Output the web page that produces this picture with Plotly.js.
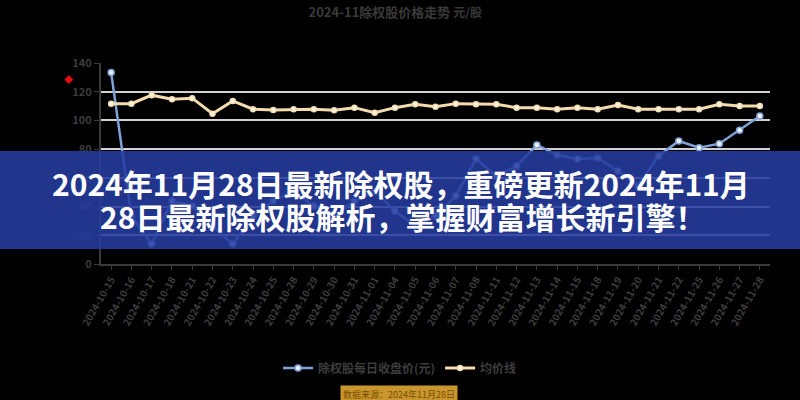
<!DOCTYPE html>
<html>
<head>
<meta charset="utf-8">
<script src="https://cdn.plot.ly/plotly-3.0.1.min.js"></script>
<style>
html,body{margin:0;padding:0;background:#000;}
#chart{width:800px;height:400px;}
</style>
</head>
<body>
<div id="chart"></div>
<script>
const dates = ["2024-10-15","2024-10-16","2024-10-17","2024-10-18","2024-10-21","2024-10-22","2024-10-23","2024-10-24","2024-10-25","2024-10-28","2024-10-29","2024-10-30","2024-10-31","2024-11-01","2024-11-04","2024-11-05","2024-11-06","2024-11-07","2024-11-08","2024-11-11","2024-11-12","2024-11-13","2024-11-14","2024-11-15","2024-11-18","2024-11-19","2024-11-20","2024-11-21","2024-11-22","2024-11-25","2024-11-26","2024-11-27","2024-11-28"];
const closePrice = [133.3,33.5,13.9,43.9,40.4,26.5,13.9,33.5,43.9,50.9,40.4,33.5,43.9,50.9,36.9,26.5,33.5,47.4,73.2,61.3,68.3,82.9,76.0,73.2,73.9,64.8,54.4,75.3,85.7,81.0,83.8,93.2,103.1];
const avgPrice = [111.7,111.7,117.6,114.8,115.5,104.7,113.6,107.8,107.3,107.8,107.8,107.1,108.9,105.4,108.9,111.3,109.6,111.7,111.3,111.3,108.9,108.9,107.8,108.9,107.8,110.8,107.8,107.8,107.8,107.8,111.3,110.1,110.1];
const seriesNames = ["除权股每日收盘价(元)","均价线"];
const yTicks = [0,20,40,60,80,100,120,140];
const chartTitle = "2024-11除权股价格走势 <span style='font-size:12px'>元/股</span>";
const bannerLine1 = "2024年11月28日最新除权股，重磅更新2024年11月";
const bannerLine2 = "28日最新除权股解析，掌握财富增长新引擎！";
const sourceNote = "数据来源：2024年11月28日";

const traces = [
  {
    x: dates, y: closePrice, name: seriesNames[0], type: "scatter", mode: "lines+markers",
    line: {color: "#7fa2d8", width: 2.5},
    marker: {color: "#eef3fb", size: 6, line: {color: "#7fa2d8", width: 1.5}}
  },
  {
    x: dates, y: avgPrice, name: seriesNames[1], type: "scatter", mode: "lines+markers",
    line: {color: "#f4dcae", width: 3},
    marker: {color: "#fff8ea", size: 5, line: {color: "#f4dcae", width: 1.5}}
  }
];

const L = 101, R = 770, T = 63, B = 264;
const W = R - L, H = B - T;
const px = v => (v - L) / W;
const py = v => (B - v) / H;

const layout = {
  width: 800, height: 400,
  paper_bgcolor: "#000", plot_bgcolor: "#000",
  margin: {l: L, r: 800 - R, t: T, b: 400 - B, pad: 0},
  font: {family: "Noto Sans CJK SC, Noto Sans, sans-serif", color: "#3d3d3d"},
  title: {
    text: chartTitle, x: 0.494, xanchor: "center", y: 0.97, yanchor: "middle",
    font: {size: 13, color: "#3a3a3a", weight: "bold"}
  },
  xaxis: {
    type: "category", range: [-0.5, dates.length - 0.5],
    showline: true, linecolor: "#3a3a3a", linewidth: 2,
    ticks: "outside", ticklen: 4, tickcolor: "#3a3a3a",
    tickangle: -60, tickfont: {size: 10, color: "#3d3d3d", weight: "bold"},
    showgrid: false, zeroline: false, fixedrange: true
  },
  yaxis: {
    range: [0, 140], tickvals: yTicks,
    showline: true, linecolor: "#3a3a3a", linewidth: 2,
    ticks: "outside", ticklen: 5, tickcolor: "#3a3a3a",
    tickfont: {size: 11, color: "#3d3d3d", weight: "bold"},
    showgrid: true, gridcolor: "#d2d2d2", gridwidth: 2, zeroline: false
  },
  showlegend: true,
  legend: {
    orientation: "h", x: px(400), xanchor: "center", y: py(368), yanchor: "middle",
    font: {size: 12, color: "#3d3d3d", weight: "bold"}, bgcolor: "rgba(0,0,0,0)"
  },
  shapes: [
    {type: "rect", xref: "paper", yref: "paper", x0: px(0) - 0.01, x1: px(800) + 0.01, y0: py(249), y1: py(151),
     fillcolor: "rgb(38,60,160)", opacity: 0.88, line: {width: 0}, layer: "above"}
  ],
  annotations: [
    {xref: "paper", yref: "paper", x: px(401), y: py(183), xanchor: "center", yanchor: "middle",
     text: bannerLine1, showarrow: false, borderpad: 0,
     font: {size: 30, color: "#ffffff", family: "Noto Sans CJK SC", weight: "bold"}},
    {xref: "paper", yref: "paper", x: px(402), y: py(216), xanchor: "center", yanchor: "middle",
     text: bannerLine2, showarrow: false, borderpad: 0,
     font: {size: 30, color: "#ffffff", family: "Noto Sans CJK SC", weight: "bold"}},
    {xref: "paper", yref: "paper", x: px(68), y: py(80), xanchor: "center", yanchor: "middle",
     text: "◆", showarrow: false, font: {size: 9, color: "#e01010"}},
    {xref: "paper", yref: "paper", x: px(399), y: py(394), xanchor: "center", yanchor: "middle",
     text: sourceNote, showarrow: false, bgcolor: "#c9962e", borderpad: 2,
     font: {size: 9, color: "#7a4e00"}}
  ]
};

Plotly.newPlot("chart", traces, layout, {displayModeBar: false, staticPlot: true});
</script>
</body>
</html>
